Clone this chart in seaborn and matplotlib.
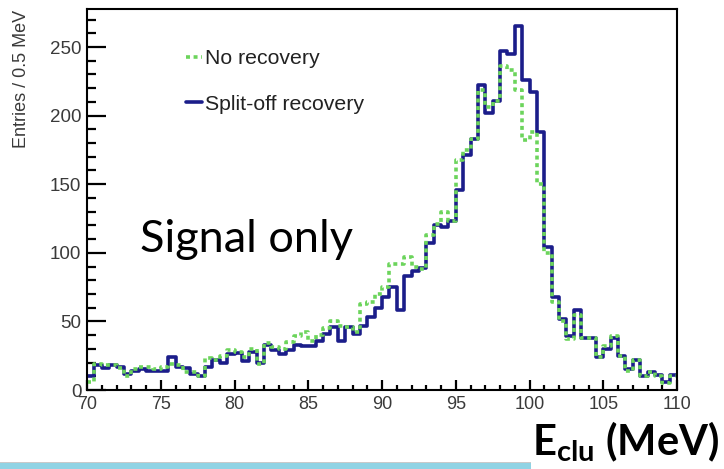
import numpy as np
import pandas as pd
import matplotlib
matplotlib.use("Agg")
import matplotlib.pyplot as plt
import seaborn as sns
from matplotlib.lines import Line2D
from matplotlib.patches import Rectangle
from matplotlib.ticker import MultipleLocator

# Histogram binning: 0.5 MeV bins from 70 to 110 MeV
e_min, e_max, bin_width = 70.0, 110.0, 0.5

# Entries per bin, without split-off recovery
no_recovery = [
    6, 19, 18, 18, 16, 10, 15, 17, 17, 15,
    17, 19, 18, 13, 13, 10, 23, 22, 25, 29,
    28, 24, 30, 19, 34, 31, 30, 35, 39, 42,
    36, 40, 45, 50, 47, 46, 42, 63, 64, 70,
    75, 92, 92, 97, 90, 88, 113, 121, 130, 123,
    168, 175, 183, 219, 206, 211, 236, 233, 219, 182,
    188, 150, 100, 64, 50, 37, 55, 38, 38, 24,
    32, 39, 25, 14, 22, 10, 13, 10, 5, 10,
]

# Entries per bin, with split-off recovery
split_off_recovery = [
    10, 18, 16, 18, 17, 12, 14, 15, 14, 14,
    14, 24, 17, 16, 12, 10, 17, 22, 20, 26,
    27, 21, 28, 20, 33, 29, 26, 29, 33, 32,
    32, 36, 41, 46, 36, 46, 41, 47, 53, 60,
    68, 75, 58, 83, 87, 89, 107, 120, 119, 123,
    146, 171, 183, 222, 202, 211, 247, 245, 265, 226,
    217, 188, 104, 68, 52, 39, 58, 38, 38, 24,
    30, 38, 25, 15, 22, 10, 13, 11, 6, 11,
]

series_labels = ["No recovery", "Split-off recovery"]
x_ticks = [70, 75, 80, 85, 90, 95, 100, 105, 110]
y_ticks = [0, 50, 100, 150, 200, 250]

edges = np.arange(e_min, e_max + bin_width / 2, bin_width)
centers = edges[:-1] + bin_width / 2

df = pd.DataFrame({
    "E": np.concatenate([centers, centers]),
    "entries": np.concatenate([no_recovery, split_off_recovery]).astype(float),
    "sample": [series_labels[0]] * len(centers) + [series_labels[1]] * len(centers),
})

navy = "#1b1d8a"
green = "#6cd45c"
tick_grey = "#3a3a3a"

sns.set_theme(style="ticks")
plt.rcParams["font.family"] = ["Liberation Sans", "DejaVu Sans"]
plt.rcParams["mathtext.fontset"] = "custom"
plt.rcParams["mathtext.rm"] = "Lato"
plt.rcParams["mathtext.bf"] = "Lato:bold"

W, H = 724, 469
fig = plt.figure(figsize=(W / 100, H / 100), dpi=100)
ax = fig.add_axes([87 / W, 79 / H, 590 / W, 381 / H])

sns.histplot(data=df[df["sample"] == series_labels[1]], x="E", weights="entries",
             binwidth=bin_width, binrange=(e_min, e_max), element="step",
             fill=False, color=navy, linewidth=2.6, ax=ax)
sns.histplot(data=df[df["sample"] == series_labels[0]], x="E", weights="entries",
             binwidth=bin_width, binrange=(e_min, e_max), element="step",
             fill=False, color=green, linewidth=2.6,
             linestyle=(0, (1.1, 1.0)), ax=ax)

ax.set_xlim(e_min, e_max)
ax.set_ylim(0, 277.7)
ax.set_xlabel("")
ax.set_ylabel("")
ax.set_xticks(x_ticks)
ax.set_yticks(y_ticks)
ax.xaxis.set_minor_locator(MultipleLocator(1))
ax.yaxis.set_minor_locator(MultipleLocator(10))

for side in ["left", "right", "top", "bottom"]:
    ax.spines[side].set_visible(True)
    ax.spines[side].set_linewidth(1.5)
    ax.spines[side].set_color("black")

# ROOT-style inward ticks on the bottom and left edges only
ax.tick_params(axis="x", which="both", direction="in", bottom=True, top=False,
               color="black", width=1.6)
ax.tick_params(axis="y", which="both", direction="in", left=True, right=False,
               color="black", width=1.6)
ax.tick_params(axis="x", which="major", length=7.2, labelsize=13,
               labelcolor=tick_grey, pad=4.5)
ax.tick_params(axis="x", which="minor", length=3.6)
ax.tick_params(axis="y", which="major", length=13.5, labelsize=13.5,
               labelcolor=tick_grey, pad=4)
ax.tick_params(axis="y", which="minor", length=6.5)

handles = [
    Line2D([], [], color=green, linewidth=2.6, linestyle=(0, (1.1, 1.0))),
    Line2D([], [], color=navy, linewidth=2.6),
]
ax.legend(handles, series_labels, loc="upper left",
          bbox_to_anchor=(186 / W, 1 - 49 / H), bbox_transform=fig.transFigure,
          frameon=False, fontsize=15.3, handlelength=0.75, handletextpad=0.15,
          labelspacing=1.25, borderpad=0, borderaxespad=0,
          labelcolor="#222222")

fig.text(22 / W, 1 - 10 / H, "Entries / 0.5 MeV", rotation=90, ha="center",
         va="top", fontsize=13, color=tick_grey)

ax.text((140 - 87) / 590, (390 - 240) / 381, "Signal only", transform=ax.transAxes,
        ha="left", va="center", fontsize=32.5, family="Lato", color="black")

# Light strip along the bottom edge of the page
fig.add_artist(Rectangle((0, 0), 531 / W, 6 / H, transform=fig.transFigure,
                         facecolor="#8fd3e4", edgecolor="none"))
fig.add_artist(Rectangle((0, 6 / H), 531 / W, 1 / H, transform=fig.transFigure,
                         facecolor="#c9c9c9", edgecolor="none"))

fig.text(532 / W, 1 - 455 / H, r"$\mathbf{E_{clu}}$ (MeV)", ha="left",
         va="baseline", fontsize=30, family="Lato", fontweight="bold",
         color="black")

fig.savefig("out.png", dpi=100, facecolor="white")
